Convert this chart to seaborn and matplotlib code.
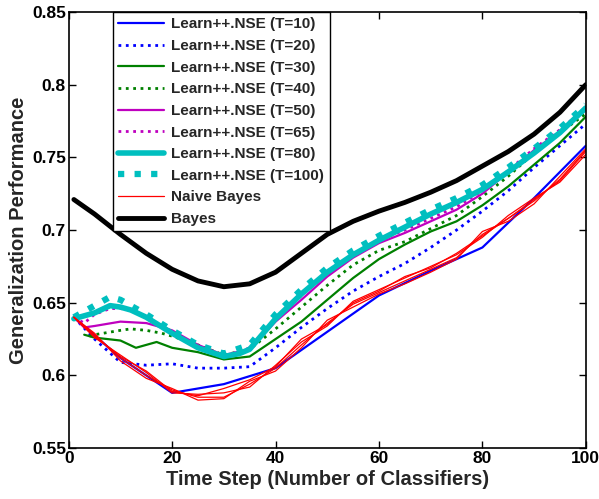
import matplotlib
matplotlib.use("Agg")
import matplotlib.pyplot as plt
import seaborn as sns

# ---- data ----
t10_x = [1, 10, 20, 30, 40, 50, 60, 70, 80, 90, 100]
t10_y = [0.640, 0.612, 0.588, 0.594, 0.605, 0.630, 0.655, 0.672, 0.688, 0.722, 0.758]

grid_x = [1, 5, 10, 15, 20, 25, 30, 35, 40, 45, 50, 55, 60, 65, 70, 75, 80, 85, 90, 95, 100]
t20_y = [0.640, 0.625, 0.609, 0.607, 0.608, 0.605, 0.605, 0.606, 0.619, 0.633, 0.646,
         0.658, 0.668, 0.677, 0.688, 0.700, 0.713, 0.727, 0.743, 0.758, 0.773]

t30_x = [3, 5, 10, 13, 17, 20, 25, 30, 35, 40, 45, 50, 55, 60, 65, 70, 75, 80, 85, 90, 95, 100]
t30_y = [0.628, 0.626, 0.624, 0.619, 0.623, 0.619, 0.616, 0.611, 0.613, 0.625, 0.637,
         0.652, 0.667, 0.680, 0.690, 0.699, 0.706, 0.717, 0.730, 0.745, 0.760, 0.778]

t40_x = [4, 5, 10, 12, 15, 18, 20, 25, 30, 35, 40, 45, 50, 55, 60, 65, 70, 75, 80, 85, 90, 95, 100]
t40_y = [0.627, 0.628, 0.631, 0.632, 0.631, 0.629, 0.627, 0.621, 0.614, 0.618, 0.632,
         0.647, 0.662, 0.676, 0.686, 0.692, 0.701, 0.710, 0.723, 0.737, 0.753, 0.767, 0.780]

t50_x = [1, 3, 5, 10, 15, 20, 25, 30, 35, 40, 45, 50, 55, 60, 65, 70, 75, 80, 85, 90, 95, 100]
t50_y = [0.640, 0.633, 0.634, 0.637, 0.636, 0.631, 0.621, 0.614, 0.618, 0.637, 0.652,
         0.668, 0.681, 0.691, 0.698, 0.706, 0.714, 0.725, 0.740, 0.755, 0.768, 0.783]

t65_x = [1, 3, 5, 8, 10, 12, 15, 20, 25, 30, 35, 40, 45, 50, 55, 60, 65, 70, 75, 80, 85, 90, 95, 100]
t65_y = [0.640, 0.636, 0.642, 0.646, 0.646, 0.645, 0.640, 0.630, 0.619, 0.613, 0.619, 0.638,
         0.655, 0.670, 0.683, 0.693, 0.700, 0.708, 0.716, 0.727, 0.741, 0.756, 0.769, 0.784]

t80_x = [1, 3, 5, 8, 10, 12, 15, 20, 25, 30, 33, 35, 40, 45, 50, 55, 60, 65, 70, 75, 80, 85, 90, 95, 100]
t80_y = [0.639, 0.641, 0.643, 0.648, 0.647, 0.645, 0.640, 0.629, 0.619, 0.613, 0.615, 0.618,
         0.639, 0.656, 0.671, 0.683, 0.693, 0.702, 0.711, 0.719, 0.728, 0.740, 0.753, 0.767, 0.784]

t100_x = [1, 3, 6, 8, 10, 12, 15, 20, 25, 30, 35, 40, 45, 50, 55, 60, 65, 70, 75, 80, 85, 90, 95, 100]
t100_y = [0.640, 0.644, 0.650, 0.654, 0.652, 0.648, 0.642, 0.631, 0.621, 0.615, 0.621, 0.642,
          0.659, 0.674, 0.686, 0.696, 0.705, 0.714, 0.722, 0.731, 0.743, 0.756, 0.770, 0.786]

# naive bayes: several runs
nb_runs = [
    [0.640, 0.628, 0.612, 0.600, 0.590, 0.585, 0.585, 0.594, 0.605, 0.621, 0.636,
     0.649, 0.657, 0.665, 0.673, 0.681, 0.697, 0.708, 0.720, 0.735, 0.755],
    [0.640, 0.626, 0.614, 0.602, 0.588, 0.587, 0.588, 0.592, 0.607, 0.623, 0.634,
     0.651, 0.659, 0.667, 0.675, 0.683, 0.695, 0.710, 0.722, 0.733, 0.752],
    [0.640, 0.629, 0.610, 0.598, 0.591, 0.583, 0.584, 0.596, 0.603, 0.619, 0.638,
     0.647, 0.656, 0.663, 0.671, 0.680, 0.699, 0.706, 0.718, 0.737, 0.756],
    [0.640, 0.627, 0.613, 0.603, 0.589, 0.586, 0.591, 0.597, 0.606, 0.625, 0.635,
     0.650, 0.658, 0.668, 0.674, 0.684, 0.696, 0.708, 0.721, 0.734, 0.754],
]

bayes_y = [0.721, 0.711, 0.697, 0.684, 0.673, 0.665, 0.661, 0.663, 0.671, 0.684, 0.697,
           0.706, 0.713, 0.719, 0.726, 0.734, 0.744, 0.754, 0.766, 0.781, 0.800]

x_ticks = [0, 20, 40, 60, 80, 100]
y_ticks = [0.55, 0.6, 0.65, 0.7, 0.75, 0.8, 0.85]
y_tick_labels = ["0.55", "0.6", "0.65", "0.7", "0.75", "0.8", "0.85"]

# ---- plot ----
sns.set_theme(style="ticks")
plt.rcParams['font.family'] = ['Liberation Sans', 'DejaVu Sans']
plt.rcParams['font.weight'] = 'bold'

fig = plt.figure(figsize=(5.99, 4.99), dpi=100)
ax = fig.add_axes([0.1147, 0.102, 0.8633, 0.874])

blue = (0, 0, 1)
green = (0, 0.5, 0)
mag = (0.75, 0, 0.75)
cyan = (0, 0.75, 0.75)

series = [
    (t10_x, t10_y, blue, 1.6, '-', "Learn++.NSE (T=10)"),
    (grid_x, t20_y, blue, 2.0, ':', "Learn++.NSE (T=20)"),
    (t30_x, t30_y, green, 1.6, '-', "Learn++.NSE (T=30)"),
    (t40_x, t40_y, green, 2.0, ':', "Learn++.NSE (T=40)"),
    (t50_x, t50_y, mag, 1.6, '-', "Learn++.NSE (T=50)"),
    (t65_x, t65_y, mag, 2.0, ':', "Learn++.NSE (T=65)"),
    (t80_x, t80_y, cyan, 4.0, '-', "Learn++.NSE (T=80)"),
    (t100_x, t100_y, cyan, 4.5, ':', "Learn++.NSE (T=100)"),
]
handles, labels = [], []
for xs, ys, c, lw, ls, name in series:
    sns.lineplot(x=xs, y=ys, color=c, lw=lw, ls=ls, ax=ax)
    handles.append(ax.lines[-1])
    labels.append(name)
for i, run in enumerate(nb_runs):
    sns.lineplot(x=grid_x, y=run, color='red', lw=0.9, ax=ax)
    if i == 0:
        handles.append(ax.lines[-1])
        labels.append("Naive Bayes")
sns.lineplot(x=grid_x, y=bayes_y, color='black', lw=3.5, ax=ax)
handles.append(ax.lines[-1])
labels.append("Bayes")

ax.set_xlim(0, 100)
ax.set_ylim(0.55, 0.85)
ax.set_xticks(x_ticks)
ax.set_yticks(y_ticks)
ax.set_xticklabels([str(v) for v in x_ticks])
ax.set_yticklabels(y_tick_labels)
ax.tick_params(direction='in', length=5, width=1, top=True, right=True,
               labelsize=12.5, pad=2, colors='black')
for lab in ax.get_xticklabels() + ax.get_yticklabels():
    lab.set_fontweight('bold')
for sp in ax.spines.values():
    sp.set_visible(True)
    sp.set_color('black')
    sp.set_linewidth(1.2)

ax.set_xlabel("Time Step (Number of Classifiers)", fontsize=14.5, fontweight='bold', labelpad=3)
ax.set_ylabel("Generalization Performance", fontsize=14.5, fontweight='bold', labelpad=3)

leg = ax.legend(handles, labels, loc='upper left', bbox_to_anchor=(0.085, 1.0), frameon=True,
                fancybox=False, edgecolor='black', framealpha=1, handlelength=3.0,
                borderaxespad=0, labelspacing=0.5, handletextpad=0.5,
                prop={'weight': 'bold', 'size': 11}, borderpad=0.35)
leg.get_frame().set_linewidth(1.0)

fig.savefig("out.png", dpi=100)
